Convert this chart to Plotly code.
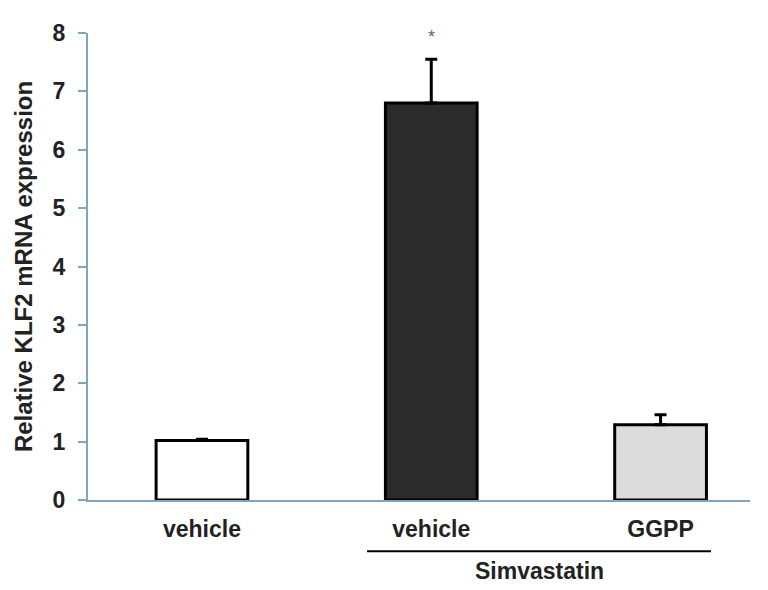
import plotly.graph_objects as go

categories = ["vehicle", "vehicle", "GGPP"]
values = [1.02, 6.80, 1.29]
errors = [0.02, 0.75, 0.17]
fills = ["#ffffff", "#2b2b2b", "#dcdcdc"]
group_label = "Simvastatin"
y_title = "Relative KLF2 mRNA expression"
y_ticks = [0, 1, 2, 3, 4, 5, 6, 7, 8]

xpos = list(range(len(categories)))
axis_col = "#7fa5bd"
txt_col = "#222222"
FONT = "Liberation Sans, Arial, sans-serif"

fig = go.Figure()
fig.add_trace(go.Bar(
    x=xpos, y=values, width=0.40,
    marker=dict(color=fills, line=dict(color="#000000", width=3)),
    error_y=dict(type="data", symmetric=False, array=errors,
                 arrayminus=[0] * len(errors), color="#000000",
                 thickness=3, width=6),
    showlegend=False,
))

fig.add_annotation(x=xpos[1], y=values[1] + errors[1], text="*",
                   showarrow=False, yanchor="bottom", yshift=10,
                   font=dict(size=18, color="#4f6a80", family=FONT))

fig.add_shape(type="line", xref="x", yref="paper",
              x0=xpos[1] - 0.28, x1=xpos[2] + 0.22, y0=-0.11, y1=-0.11,
              line=dict(color="#000000", width=2))
fig.add_annotation(x=(xpos[1] + xpos[2]) / 2 - 0.03, xref="x", yref="paper",
                   y=-0.151, yanchor="middle", text="<b>%s</b>" % group_label,
                   showarrow=False,
                   font=dict(size=23, color=txt_col, family=FONT))

fig.update_layout(
    width=768, height=590,
    margin=dict(l=80, r=26, t=15, b=98),
    plot_bgcolor="#ffffff", paper_bgcolor="#ffffff",
    font=dict(family=FONT, color=txt_col),
    xaxis=dict(range=[-0.497, 2.39], tickvals=xpos,
               ticktext=["<b>%s</b>" % c for c in categories],
               showline=True, linecolor=axis_col, linewidth=2,
               ticks="", showgrid=False, zeroline=False,
               ticklabelstandoff=7,
               tickfont=dict(size=23, color=txt_col, family=FONT)),
    yaxis=dict(range=[0, 8], tickvals=y_ticks,
               ticktext=["<b>%d</b>" % v for v in y_ticks],
               showline=True, linecolor=axis_col, linewidth=2,
               ticks="outside", ticklen=8, tickcolor=axis_col, tickwidth=2,
               showgrid=False, zeroline=False,
               ticklabelstandoff=8,
               tickfont=dict(size=23, color=txt_col, family=FONT),
               title=dict(text="<b>%s</b>" % y_title, standoff=13,
                          font=dict(size=24, color=txt_col, family=FONT))),
)

fig.write_html("out.html")
